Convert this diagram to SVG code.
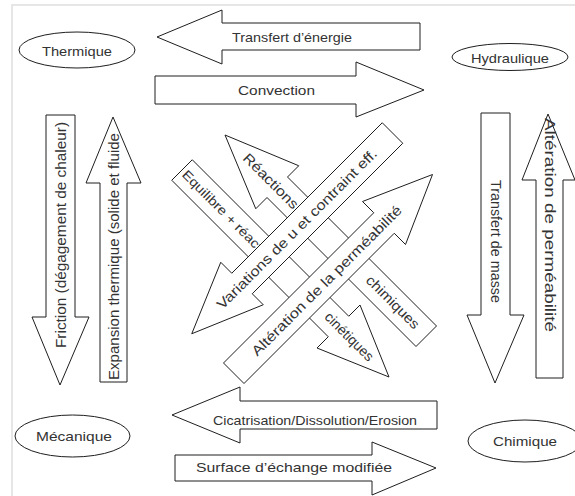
<svg xmlns="http://www.w3.org/2000/svg" width="575" height="496" viewBox="0 0 575 496">
<style>
.s{fill:#fff;stroke:#1e1e1e;stroke-width:1}
.t{font-family:"Liberation Sans",Arial,sans-serif;fill:#333;text-anchor:middle;dominant-baseline:central}
.h{font-size:13px}
.v{font-size:14px}
.d{font-size:14px}
</style>
<rect width="575" height="496" fill="#fff"/>
<path d="M12,496 V5 H575" fill="none" stroke="#e6e6e6" stroke-width="2"/>

<g id="thermique"><ellipse class="s" cx="77" cy="50" rx="58" ry="18"/><text class="t h" x="77" y="51" textLength="70" lengthAdjust="spacingAndGlyphs">Thermique</text></g>
<g id="hydraulique"><ellipse class="s" cx="510" cy="57" rx="58" ry="13.5"/><text class="t h" x="510" y="58" textLength="78" lengthAdjust="spacingAndGlyphs">Hydraulique</text></g>
<g id="mecanique"><ellipse class="s" cx="72.5" cy="436" rx="57.5" ry="21"/><text class="t h" x="74" y="436" textLength="76" lengthAdjust="spacingAndGlyphs">Mécanique</text></g>
<g id="chimique"><ellipse class="s" cx="525" cy="441" rx="57" ry="21"/><text class="t h" x="525" y="441" textLength="64" lengthAdjust="spacingAndGlyphs">Chimique</text></g>

<g id="connectors">
<polygon class="s" points="157,37 222,10 222,23 420,23 420,50 222,50 222,64"/>
<text class="t h" x="292" y="37" textLength="120" lengthAdjust="spacingAndGlyphs">Transfert d’énergie</text>
<polygon class="s" points="155,76 356,76 356,62 424,90 356,117 356,104 155,104"/>
<text class="t h" x="276.5" y="90" textLength="77" lengthAdjust="spacingAndGlyphs">Convection</text>
<polygon class="s" points="172,415 240,387 240,401 437,401 437,429 240,429 240,443"/>
<text class="t h" x="315" y="420" textLength="204" lengthAdjust="spacingAndGlyphs">Cicatrisation/Dissolution/Erosion</text>
<polygon class="s" points="175,455 372,455 372,442 436,468 372,495 372,481 175,481"/>
<text class="t h" x="294" y="467" textLength="196" lengthAdjust="spacingAndGlyphs">Surface d’échange modifiée</text>

<polygon class="s" points="46,115 75,115 75,317 89,317 60,385 32,317 46,317"/>
<text class="t v" transform="translate(61,235) rotate(-90)" textLength="226" lengthAdjust="spacingAndGlyphs">Friction (dégagement de chaleur)</text>
<polygon class="s" points="113,117 141,183 127,183 127,382 100,382 100,183 86,183"/>
<text class="t v" transform="translate(114,256.5) rotate(-90)" textLength="247" lengthAdjust="spacingAndGlyphs">Expansion thermique (solide et fluide</text>
<polygon class="s" points="481,113 510,113 510,315 524,315 495,383 467,315 481,315"/>
<text class="t v" transform="translate(496,241.5) rotate(90)" textLength="123" lengthAdjust="spacingAndGlyphs">Transfert de masse</text>
<polygon class="s" points="548,114 575,180 563,180 563,378 536,378 536,180 522,180"/>
<text class="t" style="font-size:15px" transform="translate(550,225) rotate(90)" textLength="214" lengthAdjust="spacingAndGlyphs">Altération de perméabilité</text>

<polygon class="s" points="225,135 298.75,165.75 287.5,177 436.5,326 416,346.5 267,197.5 255.75,208.75"/>
<text class="t d" transform="translate(271,181) rotate(45)" textLength="72" lengthAdjust="spacingAndGlyphs">Réactions</text>
<text class="t d" transform="translate(393,302) rotate(45)" textLength="69" lengthAdjust="spacingAndGlyphs">chimiques</text>
<polygon class="s" points="192.25,159.75 348.75,316.25 360,305 389,377 317,348 328.25,336.75 171.75,180.25"/>
<text class="t h" transform="translate(222.5,210.5) rotate(45)" textLength="108" lengthAdjust="spacingAndGlyphs">Equilibre + réact</text>
<text class="t d" transform="translate(349.5,336.5) rotate(45)" textLength="63" lengthAdjust="spacingAndGlyphs">cinétiques</text>

<polygon class="s" points="191.75,333.75 220.75,262.25 231.75,273.25 382.25,122.75 402.75,143.25 252.25,293.75 263.25,304.75"/>
<text class="t d" transform="translate(296.75,228.75) rotate(-45)" textLength="220" lengthAdjust="spacingAndGlyphs">Variations de u et contraint eff.</text>
<polygon class="s" points="432.5,174.5 362.5,201.5 373.75,212.75 223.5,363 244,383.5 394.25,233.25 405.5,244.5"/>
<text class="t d" transform="translate(326.5,280.5) rotate(-45)" textLength="206" lengthAdjust="spacingAndGlyphs">Altération de la perméabilité</text>
</g>
</svg>
